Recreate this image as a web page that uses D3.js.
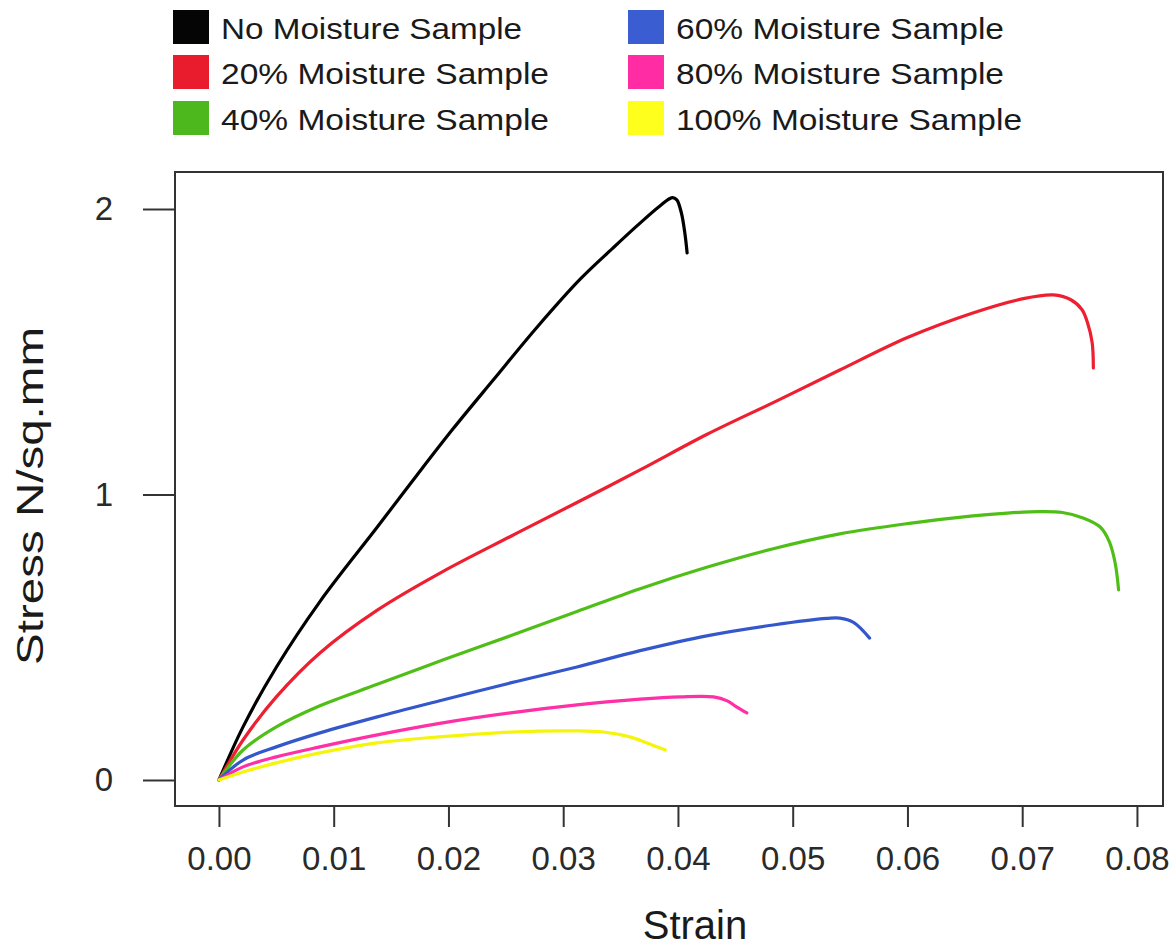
<!DOCTYPE html>
<html>
<head>
<meta charset="utf-8">
<script src="https://cdn.jsdelivr.net/npm/d3@7/dist/d3.min.js"></script>
<style>
  html, body { margin: 0; padding: 0; background: #fff; }
  svg { display: block; font-family: "Liberation Sans", Arial, sans-serif; }
</style>
</head>
<body>
<svg id="chart" width="1173" height="946"></svg>
<script>
// Stress-strain curves for samples at different moisture levels
const seriesNames = [
  "No Moisture Sample", "20% Moisture Sample", "40% Moisture Sample",
  "60% Moisture Sample", "80% Moisture Sample", "100% Moisture Sample"
];
const seriesColors = ["#000000", "#ee1f30", "#4fbf17", "#3557cc", "#ff2fa6", "#f4f40c"];
const swatchColors = ["#050505", "#e81c2c", "#4cb81e", "#3a5ed2", "#ff2ca4", "#ffff1e"];

const noMoistureStrain = [0, 0.0021, 0.0050, 0.0088, 0.0138, 0.0172, 0.0204, 0.0239, 0.0277, 0.0315, 0.0343, 0.0364, 0.0384, 0.0395, 0.0399, 0.0403, 0.0406, 0.0408];
const noMoistureStress = [0, 0.186, 0.395, 0.625, 0.886, 1.065, 1.230, 1.401, 1.585, 1.755, 1.862, 1.940, 2.010, 2.040, 2.032, 1.986, 1.916, 1.846];

const m20Strain = [0, 0.0021, 0.0050, 0.0088, 0.0138, 0.0195, 0.0254, 0.0312, 0.0367, 0.0425, 0.0483, 0.0541, 0.0600, 0.0657, 0.0701, 0.0727, 0.0742, 0.0752, 0.0757, 0.0761, 0.0762];
const m20Stress = [0, 0.140, 0.291, 0.445, 0.595, 0.730, 0.853, 0.972, 1.086, 1.210, 1.322, 1.436, 1.550, 1.636, 1.686, 1.699, 1.683, 1.648, 1.601, 1.531, 1.443];

const m40Strain = [0, 0.0021, 0.0050, 0.0088, 0.0138, 0.0195, 0.0254, 0.0312, 0.0367, 0.0425, 0.0483, 0.0541, 0.0600, 0.0657, 0.0687, 0.0715, 0.0735, 0.0753, 0.0768, 0.0776, 0.0781, 0.0784];
const m40Stress = [0, 0.105, 0.186, 0.260, 0.335, 0.420, 0.505, 0.590, 0.670, 0.745, 0.810, 0.862, 0.898, 0.925, 0.935, 0.940, 0.937, 0.918, 0.886, 0.834, 0.760, 0.666];

const m60Strain = [0, 0.0021, 0.0050, 0.0088, 0.0138, 0.0195, 0.0254, 0.0312, 0.0367, 0.0425, 0.0483, 0.0530, 0.0541, 0.0553, 0.0567];
const m60Stress = [0, 0.070, 0.116, 0.165, 0.221, 0.280, 0.340, 0.396, 0.453, 0.505, 0.543, 0.566, 0.567, 0.552, 0.497];

const m80Strain = [0, 0.0021, 0.0050, 0.0088, 0.0138, 0.0195, 0.0254, 0.0312, 0.0367, 0.0402, 0.0431, 0.0443, 0.0450, 0.0460];
const m80Stress = [0, 0.046, 0.081, 0.116, 0.158, 0.200, 0.235, 0.263, 0.283, 0.291, 0.291, 0.277, 0.259, 0.235];

const m100Strain = [0, 0.0021, 0.0050, 0.0088, 0.0138, 0.0195, 0.0254, 0.0312, 0.0335, 0.0358, 0.0373, 0.0389];
const m100Stress = [0, 0.028, 0.060, 0.095, 0.130, 0.152, 0.168, 0.172, 0.168, 0.151, 0.130, 0.105];

const strainSeries = [noMoistureStrain, m20Strain, m40Strain, m60Strain, m80Strain, m100Strain];
const stressSeries = [noMoistureStress, m20Stress, m40Stress, m60Stress, m80Stress, m100Stress];

const xTicks = [0, 0.01, 0.02, 0.03, 0.04, 0.05, 0.06, 0.07, 0.08];
const yTicks = [0, 1, 2];

// Plot frame
const box = { left: 175, top: 172, right: 1163, bottom: 806 };

const x = d3.scaleLinear().domain([-0.00383, 0.08227]).range([box.left, box.right]);
const y = d3.scaleLinear().domain([-0.0911, 2.1296]).range([box.bottom, box.top]);

const svg = d3.select("#chart");

// Curves
const line = d3.line()
  .x(d => x(d[0]))
  .y(d => y(d[1]))
  .curve(d3.curveCatmullRom.alpha(0.5));

const curves = svg.append("g");
strainSeries.forEach((xs, i) => {
  const pts = xs.map((v, j) => [v, stressSeries[i][j]]);
  curves.append("path")
    .attr("d", line(pts))
    .attr("fill", "none")
    .attr("stroke", seriesColors[i])
    .attr("stroke-width", 3.2)
    .attr("stroke-linejoin", "round")
    .attr("stroke-linecap", "round");
});

// Frame
svg.append("rect")
  .attr("x", box.left).attr("y", box.top)
  .attr("width", box.right - box.left).attr("height", box.bottom - box.top)
  .attr("fill", "none").attr("stroke", "#333").attr("stroke-width", 2);

// X axis
const xAxis = svg.append("g")
  .attr("transform", `translate(0,${box.bottom})`)
  .call(d3.axisBottom(x).tickValues(xTicks).tickSize(21).tickPadding(20).tickFormat(d3.format(".2f")));
xAxis.select(".domain").remove();
xAxis.selectAll("line").attr("stroke", "#333").attr("stroke-width", 2);
xAxis.selectAll("text").attr("font-size", 33).attr("fill", "#2a2a2a")
  .attr("font-family", "'Liberation Sans', Arial, sans-serif");

// Y axis
const yAxis = svg.append("g")
  .attr("transform", `translate(${box.left},0)`)
  .call(d3.axisLeft(y).tickValues(yTicks).tickSize(32).tickPadding(30).tickFormat(d3.format("d")));
yAxis.select(".domain").remove();
yAxis.selectAll("line").attr("stroke", "#333").attr("stroke-width", 2);
yAxis.selectAll("text").attr("font-size", 33).attr("fill", "#2a2a2a")
  .attr("font-family", "'Liberation Sans', Arial, sans-serif");

// Axis titles
svg.append("text")
  .attr("x", 695).attr("y", 939)
  .attr("text-anchor", "middle")
  .attr("font-size", 40).attr("fill", "#1a1a1a")
  .text("Strain");

svg.append("text")
  .attr("transform", "translate(43,496) rotate(-90)")
  .attr("text-anchor", "middle")
  .attr("font-size", 36).attr("fill", "#1a1a1a")
  .attr("textLength", 338).attr("lengthAdjust", "spacingAndGlyphs")
  .text("Stress N/sq.mm");

// Legend: two columns of three
const legend = svg.append("g");
const colX = [173, 628];
const rowY = [10, 55, 101];
seriesNames.forEach((name, i) => {
  const col = Math.floor(i / 3), row = i % 3;
  const g = legend.append("g").attr("transform", `translate(${colX[col]},${rowY[row]})`);
  g.append("rect").attr("width", 36).attr("height", 34).attr("fill", swatchColors[i]);
  g.append("text")
    .attr("x", 48).attr("y", 29)
    .attr("font-size", 30).attr("fill", "#1a1a1a")
    .attr("textLength", name.startsWith("No") ? 301 : (name.startsWith("100") ? 346 : 328))
    .attr("lengthAdjust", "spacingAndGlyphs")
    .text(name);
});
</script>
</body>
</html>
